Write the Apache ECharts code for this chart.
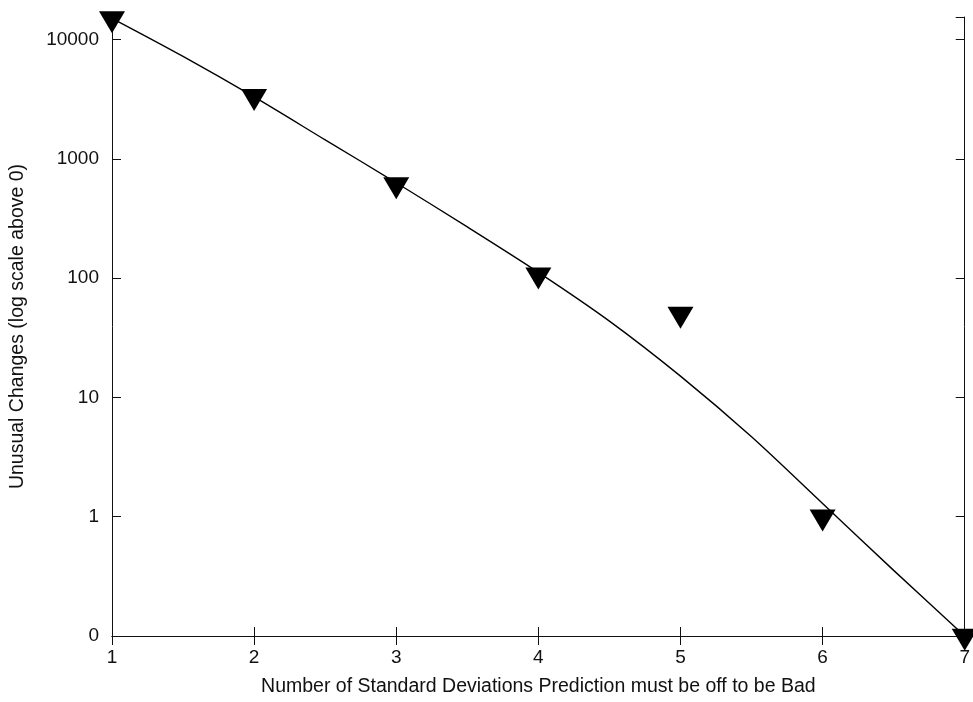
<!DOCTYPE html>
<html>
<head>
<meta charset="utf-8">
<script src="https://cdn.jsdelivr.net/npm/echarts@6/dist/echarts.min.js"></script>
<style>
  html, body { margin: 0; padding: 0; background: #fff; }
  #chart { width: 973px; height: 702px; }
</style>
</head>
<body>
<div id="chart"></div>
<script>
// observed counts per number of standard deviations
var deviations = [1, 2, 3, 4, 5, 6, 7];
var unusualChanges = [15000, 3350, 610, 107, 50, 1, 0];

// fitted curve
var fitX = [1, 1.5, 2, 2.5, 3, 3.5, 4, 4.5, 5, 5.5, 6, 6.5, 7];
var fitChanges = [15100, 7240, 3310, 1445, 631, 269, 112, 43.7, 15.1, 4.68, 1.29, 0.355, 0];

// y tick labels, one per decade ("log scale above 0": 0 sits one decade below 1)
var yTickLabels = ['0', '1', '10', '100', '1000', '10000'];

// axis position of a count: log10 above 0, with 0 at the bottom
function toAxis(v) {
  return v > 0 ? Math.log10(v) + 1 : 0;
}

var markerData = [];
for (var i = 0; i < deviations.length; i++) {
  markerData.push([deviations[i], toAxis(unusualChanges[i])]);
}
var fitData = [];
for (var j = 0; j < fitX.length; j++) {
  fitData.push([fitX[j], toAxis(fitChanges[j])]);
}

var font = 'Liberation Sans, Arial, Helvetica, sans-serif';
var ink = '#111';

var myChart = echarts.init(document.getElementById('chart'));
myChart.setOption({
  animation: false,
  backgroundColor: '#fff',
  grid: { left: 111, right: 4, top: 17, bottom: 65 },
  xAxis: [{
    type: 'value',
    min: 1, max: 7, interval: 1,
    name: 'Number of Standard Deviations Prediction must be off to be Bad',
    nameLocation: 'middle',
    nameGap: 41,
    nameTextStyle: { fontFamily: font, fontSize: 19.5, color: ink },
    axisLine: { show: true, lineStyle: { color: ink, width: 1 } },
    axisTick: { show: true, inside: true, length: 9, lineStyle: { color: ink } },
    axisLabel: { fontFamily: font, fontSize: 19, color: ink, margin: 12 },
    splitLine: { show: false }
  }, {
    type: 'value',
    position: 'top',
    min: 1, max: 7, interval: 1,
    axisLine: { show: true, lineStyle: { color: ink, width: 1 } },
    axisTick: { show: true, inside: true, length: 9, lineStyle: { color: ink } },
    axisLabel: { show: false },
    splitLine: { show: false }
  }],
  yAxis: [{
    type: 'value',
    min: 0, max: 5.19, interval: 1,
    name: 'Unusual Changes (log scale above 0)',
    nameLocation: 'middle',
    nameGap: 84,
    nameTextStyle: { fontFamily: font, fontSize: 19.5, color: ink },
    axisLine: { show: true, lineStyle: { color: ink, width: 1 } },
    axisTick: { show: true, inside: true, length: 9, lineStyle: { color: ink } },
    axisLabel: {
      fontFamily: font, fontSize: 19, color: ink, margin: 13,
      showMaxLabel: false,
      formatter: function (v) {
        var k = Math.round(v);
        return Math.abs(v - k) < 1e-6 && yTickLabels[k] !== undefined ? yTickLabels[k] : '';
      }
    },
    splitLine: { show: false }
  }, {
    type: 'value',
    position: 'right',
    min: 0, max: 5.19, interval: 1,
    axisLine: { show: true, lineStyle: { color: ink, width: 1 } },
    axisTick: { show: true, inside: true, length: 9, lineStyle: { color: ink } },
    axisLabel: { show: false },
    splitLine: { show: false }
  }],
  series: [{
    name: 'fit',
    type: 'line',
    data: fitData,
    smooth: 0.3,
    showSymbol: false,
    symbol: 'none',
    lineStyle: { color: '#000', width: 1.4 },
    z: 2
  }, {
    name: 'observed',
    type: 'scatter',
    data: markerData,
    symbol: 'path://M0,0 L26,0 L13,22 Z',
    symbolSize: [26, 22],
    symbolOffset: [0, 3.7],
    itemStyle: { color: '#000', opacity: 1 },
    clip: false,
    z: 3
  }]
});
</script>
</body>
</html>
